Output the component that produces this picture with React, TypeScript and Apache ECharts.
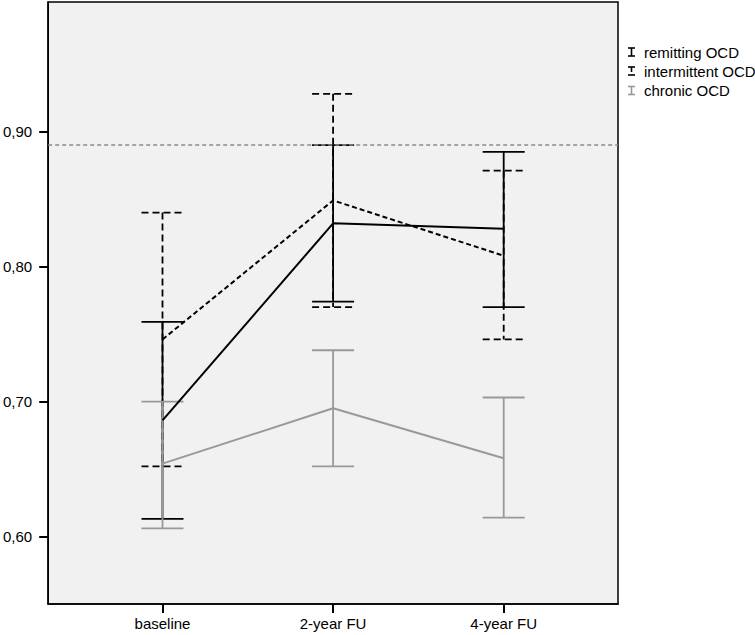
import React, { useEffect, useRef } from "react";
import * as echarts from "echarts";

const categories = ["baseline", "2-year FU", "4-year FU"];
const xPositions = [0, 1, 2];

const remittingMean = [0.686, 0.832, 0.828];
const remittingLow = [0.613, 0.774, 0.770];
const remittingHigh = [0.759, 0.890, 0.885];

const intermittentMean = [0.746, 0.849, 0.808];
const intermittentLow = [0.652, 0.770, 0.746];
const intermittentHigh = [0.840, 0.928, 0.871];

const chronicMean = [0.654, 0.695, 0.658];
const chronicLow = [0.606, 0.652, 0.614];
const chronicHigh = [0.700, 0.738, 0.703];

const referenceValue = 0.889;
const yTicks = [0.6, 0.7, 0.8, 0.9];
const legendNames = ["remitting OCD", "intermittent OCD", "chronic OCD"];

const FONT = "'Liberation Sans', Arial, Helvetica, sans-serif";
const BLACK = "#000000";
const GREY = "#999999";

function errorSeries(name: string, low: number[], high: number[], color: string, dash: any, z: number) {
  const data = xPositions.map((x, i) => [x, low[i], high[i]]);
  return {
    type: "custom",
    name,
    z,
    silent: true,
    data,
    encode: { x: 0, y: [1, 2] },
    renderItem: (params: any, api: any) => {
      const x = api.value(0);
      const lo = api.coord([x, api.value(1)]);
      const hi = api.coord([x, api.value(2)]);
      const hw = 21;
      const style = { stroke: color, lineWidth: 1.8, lineDash: dash, fill: null };
      return {
        type: "group",
        children: [
          { type: "line", shape: { x1: hi[0], y1: hi[1], x2: lo[0], y2: lo[1] }, style },
          { type: "line", shape: { x1: hi[0] - hw, y1: hi[1], x2: hi[0] + hw, y2: hi[1] }, style },
          { type: "line", shape: { x1: lo[0] - hw, y1: lo[1], x2: lo[0] + hw, y2: lo[1] }, style },
        ],
      };
    },
  };
}

function meanSeries(name: string, values: number[], color: string, dash: any, z: number, extra: any = {}) {
  return {
    type: "line",
    name,
    z,
    silent: true,
    symbol: "none",
    data: xPositions.map((x, i) => [x, values[i]]),
    lineStyle: { color, width: 2, type: dash },
    ...extra,
  };
}

function legendGraphics() {
  const items: any[] = [];
  const ys = [52, 71, 90.5];
  const colors = [BLACK, BLACK, GREY];
  legendNames.forEach((name, i) => {
    const y = ys[i];
    const cx = 631.5;
    const c = colors[i];
    const vStyle: any = { stroke: c, lineWidth: 1.6 };
    if (i === 1) {
      items.push({ type: "line", shape: { x1: cx, y1: y - 4, x2: cx, y2: y + 1 }, style: vStyle });
      items.push({ type: "line", shape: { x1: cx - 3.5, y1: y - 4, x2: cx + 3.5, y2: y - 4 }, style: vStyle });
      items.push({ type: "line", shape: { x1: cx - 3.5, y1: y + 4, x2: cx + 3.5, y2: y + 4 }, style: vStyle });
    } else {
      items.push({ type: "line", shape: { x1: cx, y1: y - 4, x2: cx, y2: y + 4 }, style: vStyle });
      items.push({ type: "line", shape: { x1: cx - 3.5, y1: y - 4, x2: cx + 3.5, y2: y - 4 }, style: vStyle });
      items.push({ type: "line", shape: { x1: cx - 3.5, y1: y + 4, x2: cx + 3.5, y2: y + 4 }, style: vStyle });
    }
    items.push({
      type: "text",
      x: 644,
      y,
      style: { text: name, fill: BLACK, font: `15px ${FONT}`, textVerticalAlign: "middle", textAlign: "left" },
    });
  });
  return items;
}

export default function App() {
  const ref = useRef<HTMLDivElement>(null);
  useEffect(() => {
    if (!ref.current) return;
    const chart = echarts.init(ref.current, null as any, { renderer: "svg" });
    const option: any = {
      animation: false,
      backgroundColor: "#ffffff",
      textStyle: { fontFamily: FONT },
      grid: {
        left: 45,
        top: 2,
        right: 137,
        bottom: 31,
        show: true,
        backgroundColor: "#f1f1f1",
        borderColor: BLACK,
        borderWidth: 1.5,
        containLabel: false,
      },
      xAxis: {
        type: "value",
        min: -0.67,
        max: 2.67,
        splitLine: { show: false },
        axisLine: { show: true, onZero: false, lineStyle: { color: BLACK, width: 1.5 } },
        axisTick: { show: true, inside: false, length: 9, customValues: xPositions, lineStyle: { color: BLACK, width: 2 } },
        axisLabel: {
          show: true,
          customValues: xPositions,
          formatter: (v: number) => categories[Math.round(v)] ?? "",
          fontSize: 15,
          color: BLACK,
          fontFamily: FONT,
          margin: 12,
        },
      },
      yAxis: {
        type: "value",
        min: 0.55,
        max: 0.996,
        splitLine: { show: false },
        axisLine: { show: true, onZero: false, lineStyle: { color: BLACK, width: 1.5 } },
        axisTick: { show: true, inside: false, length: 9, customValues: yTicks, lineStyle: { color: BLACK, width: 2 } },
        axisLabel: {
          show: true,
          customValues: yTicks,
          formatter: (v: number) => v.toFixed(2).replace(".", ","),
          fontSize: 15,
          color: BLACK,
          fontFamily: FONT,
          margin: 16,
        },
      },
      series: [
        errorSeries("intermittent OCD", intermittentLow, intermittentHigh, BLACK, [7, 4], 2),
        errorSeries("remitting OCD", remittingLow, remittingHigh, BLACK, null, 3),
        errorSeries("chronic OCD", chronicLow, chronicHigh, GREY, null, 4),
        meanSeries("intermittent OCD mean", intermittentMean, BLACK, [5, 3], 5),
        meanSeries("remitting OCD mean", remittingMean, BLACK, "solid", 5),
        meanSeries("chronic OCD mean", chronicMean, GREY, "solid", 5, {
          markLine: {
            silent: true,
            symbol: "none",
            label: { show: false },
            lineStyle: { color: "#8a8a8a", type: [4, 3], width: 1.5 },
            data: [{ yAxis: referenceValue }],
          },
        }),
      ],
      graphic: legendGraphics(),
    };
    chart.setOption(option);
    return () => chart.dispose();
  }, []);
  return (
    <div
      ref={ref}
      style={{ position: "fixed", left: 0, top: 0, width: 755, height: 635, background: "#ffffff" }}
    />
  );
}
